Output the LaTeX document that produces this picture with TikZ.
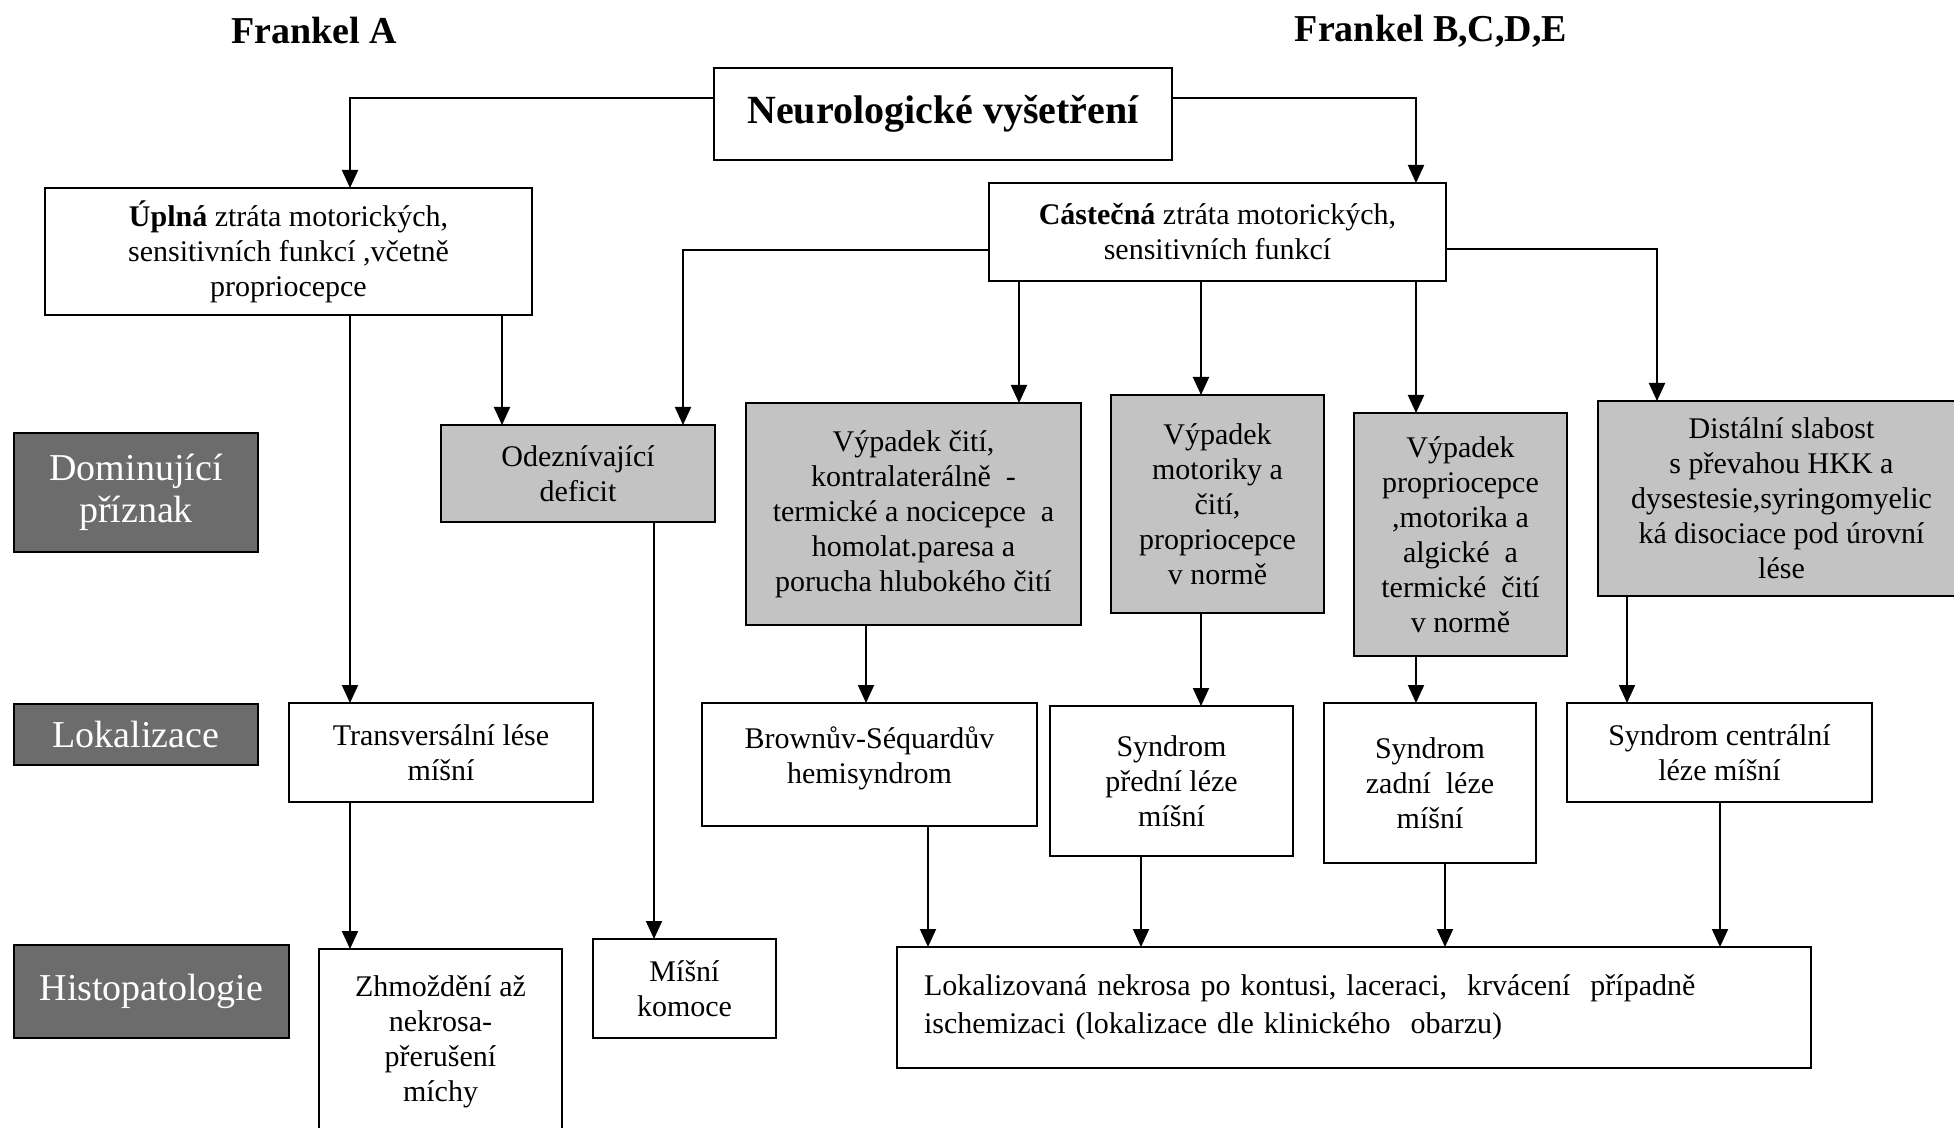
\documentclass[tikz,border=0pt]{standalone}
\usepackage{fontspec}
\setmainfont{Liberation Serif}
\usetikzlibrary{arrows.meta}
\definecolor{labelgrey}{RGB}{108,108,108}
\definecolor{boxgrey}{RGB}{195,195,195}
\begin{document}
\begin{tikzpicture}[x=0.5pt, y=-0.5pt,
    whitebox/.style={draw, line width=1.4pt, fill=white, inner sep=0pt, outer sep=0pt,
        anchor=north west, align=center, font=\fontsize{15}{17.5}\selectfont},
    greybox/.style={whitebox, fill=boxgrey},
    rowlabel/.style={whitebox, fill=labelgrey, text=white, font=\fontsize{19}{21}\selectfont},
    arr/.style={-{Triangle[length=9pt,width=8pt]}, line width=1pt},
    title/.style={font=\bfseries\fontsize{19}{22}\selectfont}]
    % Page (pixel grid of the reference, y downwards)
    \useasboundingbox (0,0) rectangle (1954,1128);
    \clip (0,0) rectangle (1954,1128);
    \fill[white] (0,0) rectangle (1954,1128);

    % Headings
    \node[title] (frankA) at (314,31) {Frankel A};
    \node[title] (frankB) at (1431,31) {Frankel B,C,D,E};

    % Top of the tree
    \node[whitebox, minimum width=229pt, minimum height=46pt,
        font=\bfseries\fontsize{20}{24}\selectfont] (neuro) at (714,68) {Neurologické vyšetření};
    \node[whitebox, minimum width=243.5pt, minimum height=63.5pt] (uplna) at (45,188)
        {\textbf{Úplná} ztráta motorických,\\sensitivních funkcí ,včetně\\propriocepce};
    \node[whitebox, minimum width=228.5pt, minimum height=49pt] (castecna) at (989,183)
        {\textbf{Cástečná} ztráta motorických,\\sensitivních funkcí};

    % Row labels
    \node[rowlabel, minimum width=122pt, minimum height=59.5pt] (dom) at (14,433) {Dominující\\příznak};
    \node[rowlabel, minimum width=122pt, minimum height=30.5pt] (lok) at (14,704) {Lokalizace};
    \node[rowlabel, minimum width=137.5pt, minimum height=46.5pt] (histo) at (14,945) {Histopatologie};

    % Dominant symptom
    \node[greybox, minimum width=137pt, minimum height=48.5pt] (odez) at (441,425) {Odeznívající\\deficit};
    \node[greybox, minimum width=167.5pt, minimum height=111pt] (citi) at (746,403)
        {Výpadek čití,\\kontralaterálně ~-\\termické a nocicepce ~a\\homolat.paresa a\\porucha hlubokého čití};
    \node[greybox, minimum width=106.5pt, minimum height=109pt] (motor) at (1111,395)
        {Výpadek\\motoriky a\\čití,\\propriocepce\\v normě};
    \node[greybox, minimum width=106.5pt, minimum height=121.5pt] (propr) at (1354,413)
        {Výpadek\\propriocepce\\,motorika a\\algické ~a\\termické ~čití\\v normě};
    \node[greybox, minimum width=183.5pt, minimum height=97.5pt] (dist) at (1598,401)
        {Distální slabost\\s převahou HKK a\\dysestesie,syringomyelic\\ká disociace pod úrovní\\lése};

    % Localisation
    \node[whitebox, minimum width=152pt, minimum height=49.5pt] (transv) at (289,703) {Transversální lése\\míšní};
    \node[whitebox, minimum width=167.5pt, minimum height=61.5pt] (brown) at (702,703)
        {Brownův-Séquardův\\hemisyndrom\\[-8.5pt]};
    \node[whitebox, minimum width=121.5pt, minimum height=75pt] (predni) at (1050,706) {Syndrom\\přední léze\\míšní};
    \node[whitebox, minimum width=106pt, minimum height=80pt] (zadni) at (1324,703) {Syndrom\\zadní ~léze\\míšní};
    \node[whitebox, minimum width=152.5pt, minimum height=49.5pt] (centr) at (1567,703) {Syndrom centrální\\léze míšní};

    % Histopathology
    \node[whitebox, minimum width=121.5pt, minimum height=93pt] (zhmoz) at (319,949)
        {Zhmoždění až\\nekrosa-\\přerušení\\míchy};
    \node[whitebox, minimum width=91.5pt, minimum height=49.5pt] (komoce) at (593,939) {Míšní\\komoce};
    \node[whitebox, minimum width=457pt, minimum height=60.5pt, align=left, text width=430pt] (nekr) at (897,947)
        {Lokalizovaná nekrosa po kontusi, laceraci, ~krvácení ~případně\\[1.5pt]ischemizaci (lokalizace dle klinického ~obarzu)\\[-9.5pt]};

    % Connectors from the top
    \draw[arr] (neuro.west |- 0,98) -| (uplna.north -| 350,0);
    \draw[arr] (neuro.east |- 0,98) -| (castecna.north -| 1416,0);
    \draw[arr] (uplna.south -| 350,0) -- (transv.north -| 350,0);
    \draw[arr] (uplna.south -| 502,0) -- (odez.north -| 502,0);
    \draw[arr] (castecna.west |- 0,250) -| (odez.north -| 683,0);
    \draw[arr] (castecna.south -| 1019,0) -- (citi.north -| 1019,0);
    \draw[arr] (castecna.south -| 1201,0) -- (motor.north -| 1201,0);
    \draw[arr] (castecna.south -| 1416,0) -- (propr.north -| 1416,0);
    \draw[arr] (castecna.east |- 0,249) -| (dist.north -| 1657,0);

    % Dominant symptom -> localisation / histopathology
    \draw[arr] (odez.south -| 654,0) -- (komoce.north -| 654,0);
    \draw[arr] (citi.south -| 866,0) -- (brown.north -| 866,0);
    \draw[arr] (motor.south -| 1201,0) -- (predni.north -| 1201,0);
    \draw[arr] (propr.south -| 1416,0) -- (zadni.north -| 1416,0);
    \draw[arr] (dist.south -| 1627,0) -- (centr.north -| 1627,0);

    % Localisation -> histopathology
    \draw[arr] (transv.south -| 350,0) -- (zhmoz.north -| 350,0);
    \draw[arr] (brown.south -| 928,0) -- (nekr.north -| 928,0);
    \draw[arr] (predni.south -| 1141,0) -- (nekr.north -| 1141,0);
    \draw[arr] (zadni.south -| 1445,0) -- (nekr.north -| 1445,0);
    \draw[arr] (centr.south -| 1720,0) -- (nekr.north -| 1720,0);
\end{tikzpicture}
\end{document}
